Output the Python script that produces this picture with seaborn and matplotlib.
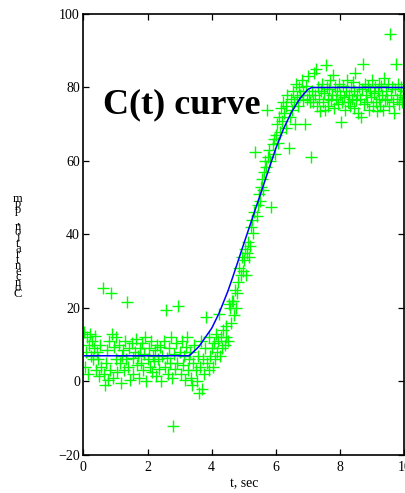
import matplotlib
matplotlib.use("Agg")
import matplotlib.pyplot as plt
import seaborn as sns
import pandas as pd

# ---- data ----
t_base = [0.02, 0.05, 0.08, 0.11, 0.14, 0.17, 0.20, 0.23, 0.26, 0.30, 0.33, 0.36, 0.40, 0.43, 0.46,
          0.50, 0.53, 0.56, 0.60, 0.63, 0.66, 0.70, 0.73, 0.76, 0.80, 0.83, 0.86, 0.90, 0.93, 0.96,
          1.00, 1.03, 1.06, 1.10, 1.13, 1.16, 1.20, 1.23, 1.26, 1.30, 1.33, 1.36, 1.40, 1.43, 1.46,
          1.50, 1.53, 1.56, 1.60, 1.63, 1.66, 1.70, 1.73, 1.76, 1.80, 1.83, 1.86, 1.90, 1.93, 1.96,
          2.00, 2.03, 2.06, 2.10, 2.13, 2.16, 2.20, 2.23, 2.26, 2.30, 2.33, 2.36, 2.40, 2.43, 2.46,
          2.50, 2.53, 2.56, 2.60, 2.63, 2.66, 2.70, 2.73, 2.76, 2.80, 2.83, 2.86, 2.90, 2.93, 2.96,
          3.00, 3.03, 3.06, 3.10, 3.13, 3.16, 3.20, 3.23, 3.26, 3.30]
c_base = [13.5, 4, 8, 12, 2, 10, 13, 7, 11, 6, 9, 12.5, 3, 8, 6,
          1.5, 10, 4, 25.5, 2, -1, 5, 8.5, 0.5, 11, 3, 24, 13, 1, 9.5,
          12, 6, 2.5, 10, 5, -0.5, 7, 8.5, 3, 11, 6, 21.5, 4, 9, 0.5,
          10.5, 6.5, 2, 8, 11.5, 4.5, 7, 1, 9, 5, 10.5, 3, 7.5, 12, 0,
          6, 9, 4, 11, 2.5, 7, 5.5, 8.5, 1.5, 10, 6, 3.5, 9.5, 0, 7,
          11, 4, 19.5, 6.5, 2, 9, 5, 12, 1, -12, 7.5, 3.5, 10.5, 5, 20.5,
          8, 2, 11, 4.5, 7, 0.5, 9.5, 12, 3, 6]

t_rise = [3.33, 3.36, 3.40, 3.43, 3.46, 3.50, 3.53, 3.56, 3.60, 3.63, 3.66, 3.70, 3.73, 3.76, 3.80,
          3.83, 3.86, 3.90, 3.93, 3.96, 4.00, 4.03, 4.06, 4.10, 4.13, 4.16, 4.20, 4.23, 4.26, 4.30,
          4.33, 4.36, 4.40, 4.43, 4.46, 4.50, 4.53, 4.56, 4.60, 4.63, 4.66, 4.70, 4.73, 4.76, 4.80]
c_rise = [8, 1, -1, 5, 10, 3, 0, 7, -3, 4, 11, -2, 6, 2, 9,
          17.5, 5, 3, 12, 7, 9, 4, 10.5, 6, 13, 8, 11, 18.5, 7, 12,
          9, 14, 10, 12, 15, 11, 21, 20, 16, 22, 22, 18, 25, 20, 24]

t_ramp = [4.83, 4.86, 4.90, 4.93, 4.96, 5.00, 5.03, 5.06, 5.10, 5.13, 5.16, 5.20, 5.23, 5.26, 5.30,
          5.33, 5.36, 5.40, 5.43, 5.46, 5.50, 5.53, 5.56, 5.60, 5.63, 5.66, 5.70, 5.73, 5.76, 5.80,
          5.83, 5.86, 5.90, 5.93, 5.96, 6.00, 6.03, 6.06, 6.10, 6.13, 6.16, 6.20, 6.23, 6.26, 6.30,
          6.33, 6.36, 6.40, 6.43, 6.46, 6.50, 6.53, 6.56, 6.60, 6.63, 6.66, 6.70, 6.73, 6.76, 6.80,
          6.83, 6.86, 6.90, 6.93, 6.96, 7.00, 7.03, 7.06, 7.10]
c_ramp = [27, 31, 29, 34, 30, 33, 36, 29, 35, 38, 34, 37, 42, 44, 40.5,
          46, 62.5, 45, 48, 51, 49, 53, 55, 52, 57, 60, 58.5, 74, 61, 63,
          60, 47.5, 64.5, 66, 62, 67, 70, 65, 72, 68, 74.5, 71, 76, 73, 69,
          75, 78, 63.5, 72, 77, 74, 79, 76, 70, 81, 77.5, 75, 80, 78, 82,
          76.5, 79, 70, 80.5, 77, 83, 78, 76, 61]

t_plat = [7.13, 7.16, 7.19, 7.22, 7.25, 7.28, 7.31, 7.34, 7.37, 7.40, 7.43, 7.46, 7.49, 7.52, 7.55,
          7.58, 7.61, 7.64, 7.67, 7.70, 7.73, 7.76, 7.79, 7.82, 7.85, 7.88, 7.91, 7.94, 7.97, 8.00,
          8.03, 8.06, 8.09, 8.12, 8.15, 8.18, 8.21, 8.24, 8.27, 8.30, 8.33, 8.36, 8.39, 8.42, 8.45,
          8.48, 8.51, 8.54, 8.57, 8.60, 8.63, 8.66, 8.69, 8.72, 8.75, 8.78, 8.81, 8.84, 8.87, 8.90,
          8.93, 8.96, 8.99, 9.02, 9.05, 9.08, 9.11, 9.14, 9.17, 9.20, 9.23, 9.26, 9.29, 9.32, 9.35,
          9.38, 9.41, 9.44, 9.47, 9.50, 9.53, 9.56, 9.59, 9.62, 9.65, 9.68, 9.71, 9.74, 9.77, 9.80,
          9.83, 9.86, 9.89, 9.92, 9.95, 9.98]
c_plat = [79, 76, 84, 78, 85, 75, 80, 77, 73.5, 79, 81, 76, 78.5, 74, 86,
          80, 77, 75, 79.5, 82, 76.5, 78, 83.5, 74.5, 80, 77, 79, 75.5, 81, 78,
          70.5, 76, 80.5, 77.5, 74, 79, 82, 76, 78, 75, 80, 77, 81.5, 74.5, 79,
          84, 76.5, 78, 73, 80, 77, 72, 79.5, 86.5, 75.5, 81, 78, 76, 80.5, 74,
          79, 77.5, 82, 75, 78.5, 80, 76, 73.5, 79, 81, 77, 75, 80.5, 78, 74,
          82.5, 76.5, 79, 77, 81, 75, 94.5, 78, 80, 76, 73, 79.5, 86.5, 77, 81,
          75.5, 78, 80, 76, 79, 77.5]

line_t = [0, 3.3, 3.6, 4.0, 4.23, 4.5, 4.64, 5.0, 5.5, 6.0, 6.25, 6.5, 6.75, 7.0, 7.12, 10]
line_c = [7, 7, 9.5, 14.5, 18.6, 24.5, 28, 37.5, 50.5, 63.5, 69, 73.5, 77, 79.5, 80, 80]

x_ticks = [0, 2, 4, 6, 8, 10]
y_ticks = [-20, 0, 20, 40, 60, 80, 100]
title_text = "C(t) curve"
x_label = "t, sec"
y_label = "Concentration, ppm"

# ---- build tables ----
pts = pd.DataFrame({"t": t_base + t_rise + t_ramp + t_plat,
                    "c": c_base + c_rise + c_ramp + c_plat})
fit = pd.DataFrame({"t": line_t, "c": line_c})

sns.set_style("ticks")
plt.rcParams["font.family"] = ["Liberation Serif", "DejaVu Serif"]
plt.rcParams["xtick.direction"] = "in"
plt.rcParams["ytick.direction"] = "in"
plt.rcParams["text.color"] = "black"
plt.rcParams["axes.labelcolor"] = "black"

fig = plt.figure(figsize=(4.05, 4.93), dpi=100)
ax = fig.add_axes([0.206, 0.0771, 0.792, 0.8945])

sns.scatterplot(data=pts, x="t", y="c", marker="+", s=85, color="#00ff00",
                linewidth=1.0, ax=ax, zorder=2)
sns.lineplot(data=fit, x="t", y="c", sort=False, estimator=None, color="#0000ff",
             linewidth=1.1, ax=ax, zorder=3)

ax.set_xlim(0, 10)
ax.set_ylim(-20, 100)
ax.set_xticks(x_ticks)
ax.set_yticks(y_ticks)
ax.tick_params(axis="both", which="both", top=True, right=True, length=4, width=0.9,
               labelsize=10, colors="black")
ax.tick_params(axis="x", pad=4.5)
ax.tick_params(axis="y", pad=2.5)
for sp in ax.spines.values():
    sp.set_linewidth(1.2)
    sp.set_color("black")

ax.set_xlabel(x_label, fontsize=10, labelpad=2, color="black")
ax.set_ylabel("")

ax.text(0.6, 73.0, title_text, fontsize=26, fontweight="bold", ha="left", va="baseline",
        color="black", zorder=4)

# stacked, upright y-label characters (reading bottom to top)
chars = list(y_label)
y_bottom_px = 294.0
step_px = 5.6
for i, ch in enumerate(chars):
    ypx = y_bottom_px - i * step_px
    fig.text(18 / 405, 1 - ypx / 493, ch, fontsize=9, ha="center", va="center",
             color="black")

fig.savefig("out.png", dpi=100)
